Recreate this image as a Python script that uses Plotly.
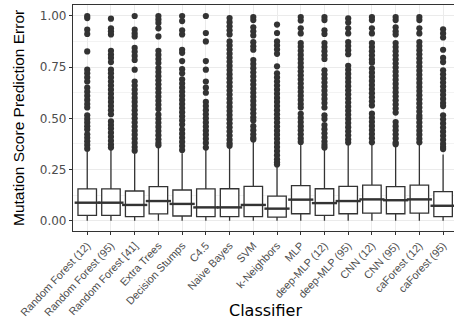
import plotly.graph_objects as go

labels = ["Random Forest (12)", "Random Forest (95)", "Random Forest [41]", "Extra Trees",
          "Decision Stumps", "C4.5", "Naive Bayes", "SVM", "k-Neighbors", "MLP",
          "deep-MLP (12)", "deep-MLP (95)", "CNN (12)", "CNN (95)", "caForest (12)", "caForest (95)"]

q1 = [0.026, 0.026, 0.020, 0.033, 0.023, 0.020, 0.020, 0.020, 0.017, 0.034, 0.026, 0.034, 0.037, 0.034, 0.037, 0.020]
median = [0.088, 0.088, 0.077, 0.096, 0.082, 0.065, 0.065, 0.077, 0.059, 0.103, 0.086, 0.096, 0.104, 0.100, 0.104, 0.073]
q3 = [0.155, 0.155, 0.145, 0.166, 0.150, 0.155, 0.156, 0.168, 0.120, 0.171, 0.156, 0.168, 0.174, 0.166, 0.174, 0.142]
lower = [0.0] * 16
upper = [0.340, 0.345, 0.330, 0.355, 0.330, 0.345, 0.354, 0.385, 0.262, 0.370, 0.345, 0.370, 0.370, 0.362, 0.370, 0.324]

out_rf12 = [1.0, 0.99, 0.933, 0.912, 0.827, 0.738, 0.72, 0.70, 0.68, 0.65, 0.63, 0.61, 0.59, 0.57, 0.553,
            0.515, 0.497, 0.48, 0.462, 0.445, 0.422, 0.405, 0.388, 0.37, 0.352]
out_rf95 = [0.987, 0.94, 0.925, 0.91, 0.83, 0.812, 0.795, 0.775, 0.738, 0.72, 0.70, 0.68, 0.66, 0.64, 0.62,
            0.60, 0.58, 0.56, 0.54, 0.52, 0.485, 0.467, 0.45, 0.43, 0.41, 0.39, 0.372, 0.357]
out_rf41 = [1.0, 0.933, 0.915, 0.90, 0.844, 0.825, 0.805, 0.785, 0.738, 0.68, 0.66, 0.64, 0.62, 0.60, 0.58,
            0.56, 0.54, 0.52, 0.50, 0.48, 0.46, 0.44, 0.42, 0.40, 0.38, 0.36, 0.342]
out_et = [1.0, 0.983, 0.966, 0.94, 0.90, 0.83, 0.81, 0.79, 0.77, 0.746, 0.726, 0.706, 0.686, 0.666, 0.646,
          0.626, 0.606, 0.586, 0.566, 0.546, 0.518, 0.498, 0.478, 0.458, 0.438, 0.418, 0.398, 0.38, 0.368]
out_ds = [1.0, 0.975, 0.93, 0.91, 0.835, 0.82, 0.78, 0.74, 0.72, 0.69, 0.67, 0.65, 0.63, 0.61, 0.59, 0.57,
          0.55, 0.53, 0.51, 0.49, 0.47, 0.445, 0.425, 0.405, 0.385, 0.365, 0.345]
out_c45 = [1.0, 0.917, 0.876, 0.78, 0.738, 0.68, 0.65, 0.625, 0.58, 0.56, 0.54, 0.52, 0.50, 0.48, 0.46,
           0.44, 0.42, 0.40, 0.38, 0.357]
out_nb = [0.99, 0.97, 0.95, 0.93, 0.91, 0.876, 0.856, 0.836, 0.816, 0.796, 0.776, 0.756, 0.736, 0.716, 0.696,
          0.676, 0.656, 0.636, 0.616, 0.596, 0.576, 0.556, 0.536, 0.516, 0.496, 0.476, 0.456, 0.436, 0.416,
          0.396, 0.378, 0.366]
out_svm = [0.995, 0.98, 0.945, 0.925, 0.905, 0.872, 0.852, 0.835, 0.785, 0.765, 0.745, 0.725, 0.705, 0.685,
           0.665, 0.645, 0.625, 0.605, 0.585, 0.565, 0.545, 0.525, 0.505, 0.49, 0.462, 0.442, 0.422, 0.405, 0.397]
out_knn = [0.958, 0.917, 0.876, 0.856, 0.836, 0.815, 0.754, 0.72, 0.70, 0.68, 0.66, 0.64, 0.62, 0.60, 0.58,
           0.56, 0.54, 0.52, 0.50, 0.48, 0.46, 0.44, 0.42, 0.40, 0.38, 0.36, 0.34, 0.32, 0.30, 0.285, 0.275]
out_mlp = [0.995, 0.978, 0.94, 0.915, 0.868, 0.85, 0.83, 0.81, 0.79, 0.77, 0.75, 0.73, 0.71, 0.69, 0.67,
           0.65, 0.63, 0.61, 0.59, 0.57, 0.553, 0.522, 0.502, 0.482, 0.462, 0.442, 0.422, 0.402, 0.385]
out_dmlp12 = [0.995, 0.98, 0.93, 0.912, 0.868, 0.848, 0.828, 0.808, 0.79, 0.735, 0.715, 0.695, 0.675, 0.655,
              0.635, 0.615, 0.595, 0.575, 0.553, 0.515, 0.497, 0.467, 0.447, 0.427, 0.407, 0.387, 0.37, 0.357]
out_dmlp95 = [0.988, 0.968, 0.94, 0.915, 0.873, 0.853, 0.833, 0.813, 0.757, 0.737, 0.717, 0.697, 0.677,
              0.657, 0.637, 0.617, 0.597, 0.577, 0.557, 0.537, 0.517, 0.497, 0.477, 0.457, 0.437, 0.417,
              0.397, 0.382]
out_cnn12 = [0.995, 0.98, 0.94, 0.915, 0.868, 0.848, 0.828, 0.808, 0.788, 0.772, 0.743, 0.723, 0.703, 0.683,
             0.663, 0.643, 0.623, 0.603, 0.583, 0.563, 0.523, 0.503, 0.483, 0.463, 0.443, 0.423, 0.403, 0.383]
out_cnn95 = [0.995, 0.98, 0.945, 0.925, 0.91, 0.868, 0.848, 0.828, 0.808, 0.788, 0.768, 0.748, 0.728, 0.708,
             0.688, 0.668, 0.648, 0.628, 0.608, 0.588, 0.568, 0.548, 0.528, 0.482, 0.462, 0.442, 0.422,
             0.402, 0.382, 0.374]
out_caf12 = [0.995, 0.98, 0.94, 0.915, 0.873, 0.853, 0.833, 0.813, 0.793, 0.773, 0.753, 0.733, 0.713, 0.693,
             0.673, 0.653, 0.633, 0.613, 0.593, 0.573, 0.553, 0.533, 0.513, 0.5, 0.48, 0.46, 0.44, 0.42,
             0.40, 0.383]
out_caf95 = [0.935, 0.915, 0.895, 0.835, 0.795, 0.775, 0.735, 0.715, 0.695, 0.675, 0.655, 0.635, 0.615,
             0.595, 0.575, 0.56, 0.515, 0.495, 0.475, 0.455, 0.435, 0.415, 0.395, 0.375, 0.36, 0.35]

outliers = [out_rf12, out_rf95, out_rf41, out_et, out_ds, out_c45, out_nb, out_svm, out_knn, out_mlp,
            out_dmlp12, out_dmlp95, out_cnn12, out_cnn95, out_caf12, out_caf95]

y_ticks = [0.0, 0.25, 0.5, 0.75, 1.0]
y_tick_text = ["0.00", "0.25", "0.50", "0.75", "1.00"]

INK = "#333333"
fig = go.Figure()

# outlier points (drawn first so boxes/whiskers sit on top like ggplot)
ox, oy = [], []
for lab, vals in zip(labels, outliers):
    ox += [lab] * len(vals)
    oy += vals
fig.add_trace(go.Scatter(x=ox, y=oy, mode="markers",
                         marker=dict(size=6.2, color=INK, line=dict(width=0)),
                         showlegend=False, hoverinfo="skip"))

fig.add_trace(go.Box(x=labels, q1=q1, median=median, q3=q3, lowerfence=lower, upperfence=upper,
                     boxpoints=False, fillcolor="white", line=dict(color=INK, width=1.3),
                     whiskerwidth=0, width=0.78, showlegend=False))

# thicker median bars (ggplot fatten)
fig.add_trace(go.Scatter(x=labels, y=median, mode="markers",
                         marker=dict(symbol="line-ew", size=18, line=dict(color=INK, width=2.4)),
                         showlegend=False, hoverinfo="skip"))

L, R, T, B = 73, 0, 5, 89
W, H = 454, 320
pw = W - L - R
ph = H - T - B

fig.update_layout(
    width=W, height=H,
    margin=dict(l=L, r=R, t=T, b=B, autoexpand=False),
    paper_bgcolor="white", plot_bgcolor="white",
    font=dict(family="Liberation Sans, Arial, sans-serif", color="#4d4d4d"),
)
fig.update_xaxes(
    type="category", categoryorder="array", categoryarray=labels,
    range=[-0.6, 15.46], automargin=False,
    showgrid=True, gridcolor="#ebebeb", gridwidth=1,
    showline=True, linecolor=INK, linewidth=1.2, mirror=True,
    ticks="outside", ticklen=3, tickcolor=INK, tickwidth=1,
    tickangle=-47, tickfont=dict(size=10.8, color="#4d4d4d", family="Liberation Sans, Arial, sans-serif"),
)
fig.update_yaxes(
    range=[-0.0503, 1.0537], automargin=False,
    tickvals=y_ticks, ticktext=y_tick_text,
    showgrid=True, gridcolor="#ebebeb", gridwidth=1, zeroline=False,
    minor=dict(dtick=0.125, tick0=0.125, showgrid=True, gridcolor="#f3f3f3", gridwidth=0.6),
    showline=True, linecolor=INK, linewidth=1.2,
    ticks="outside", ticklen=3, tickcolor=INK, tickwidth=1,
    tickfont=dict(size=12, color="#4d4d4d", family="DejaVu Sans, sans-serif"),
)

fig.add_annotation(text="Mutation Score Prediction Error", textangle=-90,
                   xref="paper", yref="paper", x=(18 - L) / pw, y=(H - B - 118) / ph,
                   xanchor="center", yanchor="middle", showarrow=False,
                   font=dict(size=15.5, color="black", family="Liberation Sans, Arial, sans-serif"))
fig.add_annotation(text="Classifier",
                   xref="paper", yref="paper", x=(265 - L) / pw, y=(H - B - 310) / ph,
                   xanchor="center", yanchor="middle", showarrow=False,
                   font=dict(size=16, color="black", family="DejaVu Sans, sans-serif"))

fig.write_html("out.html", config={"displayModeBar": False},
               post_script="document.body.style.margin='0';document.body.style.padding='0';")
